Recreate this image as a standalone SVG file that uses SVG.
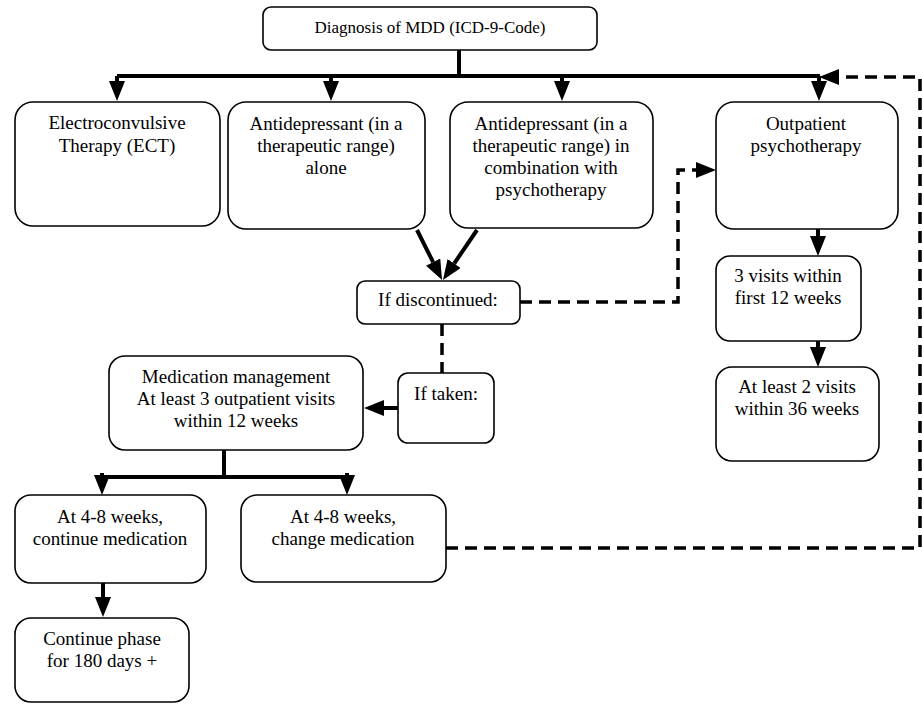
<svg xmlns="http://www.w3.org/2000/svg" width="922" height="704" viewBox="0 0 922 704">
<style>
.box{fill:#fff;stroke:#000;stroke-width:1.6}
.t{font-size:19px;fill:#000;text-anchor:middle}
.t17{font-size:17px}
.c{fill:none;stroke:#000;stroke-width:4}
.d{fill:none;stroke:#000;stroke-width:3.5;stroke-dasharray:12 7}
</style>
<defs>
<marker id="ah" markerUnits="userSpaceOnUse" markerWidth="20" markerHeight="16" refX="0" refY="8" orient="auto" viewBox="0 0 20 16">
<path d="M0,0 L20,8 L0,16 z" fill="#000"/>
</marker>
</defs>
<g id="connectors">
<path class="c" d="M459,50 V76"/>
<path class="c" d="M117,76 H820"/>
<path class="c" d="M117,76 V81" marker-end="url(#ah)"/>
<path class="c" d="M331,76 V81" marker-end="url(#ah)"/>
<path class="c" d="M562,76 V81" marker-end="url(#ah)"/>
<path class="c" d="M819,76 V81" marker-end="url(#ah)"/>
<path class="c" d="M417,230 L433.1,262.1" marker-end="url(#ah)"/>
<path class="c" d="M477,230 L454.2,263.5" marker-end="url(#ah)"/>
<path class="d" d="M520,302 H678 V170 H696" marker-end="url(#ah)"/>
<path class="d" d="M442,324 V373"/>
<path class="c" d="M398,408 H384" marker-end="url(#ah)"/>
<path class="c" d="M224,450 V477"/>
<path class="c" d="M100,477 H350"/>
<path class="c" d="M102,473 V475" marker-end="url(#ah)"/>
<path class="c" d="M347,473 V475" marker-end="url(#ah)"/>
<path class="c" d="M103,583 V597" marker-end="url(#ah)"/>
<path class="d" d="M446,548 H920 V77 H839" marker-end="url(#ah)"/>
<path class="c" d="M818,229 V236" marker-end="url(#ah)"/>
<path class="c" d="M818,341 V347" marker-end="url(#ah)"/>
</g>
<g font-family="Liberation Serif, Times New Roman, DejaVu Serif, serif">
<g id="n-diagnosis">
<rect class="box" x="263" y="7" width="334" height="43" rx="8"/>
<text class="t t17" x="430" y="33">Diagnosis of MDD (ICD-9-Code)</text>
</g>
<g id="n-ect">
<rect class="box" x="15" y="102" width="205" height="124" rx="18"/>
<text class="t" x="117" y="129">Electroconvulsive</text>
<text class="t" x="117" y="152">Therapy (ECT)</text>
</g>
<g id="n-alone">
<rect class="box" x="228" y="102" width="197" height="127" rx="18"/>
<text class="t" x="326" y="130">Antidepressant (in a</text>
<text class="t" x="326" y="152">therapeutic range)</text>
<text class="t" x="326" y="174">alone</text>
</g>
<g id="n-combo">
<rect class="box" x="450" y="102" width="203" height="126" rx="18"/>
<text class="t" x="551" y="130">Antidepressant (in a</text>
<text class="t" x="551" y="152">therapeutic range) in</text>
<text class="t" x="551" y="174">combination with</text>
<text class="t" x="551" y="196">psychotherapy</text>
</g>
<g id="n-outpatient">
<rect class="box" x="716" y="102" width="182" height="127" rx="18"/>
<text class="t" x="806" y="130">Outpatient</text>
<text class="t" x="806" y="152">psychotherapy</text>
</g>
<g id="n-discontinued">
<rect class="box" x="357" y="281" width="163" height="43" rx="8"/>
<text class="t" x="438" y="306">If discontinued:</text>
</g>
<g id="n-taken">
<rect class="box" x="398" y="373" width="96" height="70" rx="10"/>
<text class="t" x="446" y="400">If taken:</text>
</g>
<g id="n-medmgmt">
<rect class="box" x="109" y="356" width="254" height="94" rx="16"/>
<text class="t" x="236" y="383">Medication management</text>
<text class="t" x="236" y="405">At least 3 outpatient visits</text>
<text class="t" x="236" y="427">within 12 weeks</text>
</g>
<g id="n-continue">
<rect class="box" x="15" y="495" width="191" height="88" rx="16"/>
<text class="t" x="110" y="523">At 4-8 weeks,</text>
<text class="t" x="110" y="545">continue medication</text>
</g>
<g id="n-change">
<rect class="box" x="241" y="495" width="205" height="87" rx="16"/>
<text class="t" x="343" y="523">At 4-8 weeks,</text>
<text class="t" x="343" y="545">change medication</text>
</g>
<g id="n-phase">
<rect class="box" x="15" y="618" width="174" height="84" rx="16"/>
<text class="t" x="102" y="645">Continue phase</text>
<text class="t" x="102" y="667">for 180 days +</text>
</g>
<g id="n-3visits">
<rect class="box" x="716" y="256" width="145" height="85" rx="14"/>
<text class="t" x="788" y="282">3 visits within</text>
<text class="t" x="788" y="304">first 12 weeks</text>
</g>
<g id="n-2visits">
<rect class="box" x="716" y="367" width="163" height="94" rx="16"/>
<text class="t" x="797" y="393">At least 2 visits</text>
<text class="t" x="797" y="415">within 36 weeks</text>
</g>
</g>
</svg>
